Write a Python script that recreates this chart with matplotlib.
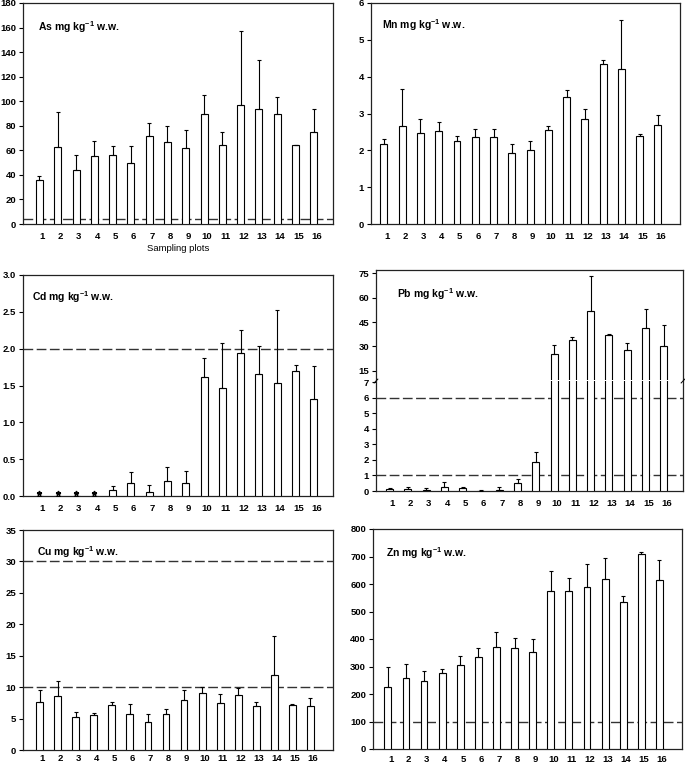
import matplotlib
matplotlib.use("Agg")
import matplotlib.pyplot as plt
import numpy as np

plt.rcParams["font.family"] = ["Liberation Sans", "DejaVu Sans"]
plt.rcParams["font.weight"] = "bold"
plt.rcParams["mathtext.fontset"] = "custom"
plt.rcParams["mathtext.rm"] = "Liberation Sans:bold"
plt.rcParams["mathtext.default"] = "rm"

plots = list(range(1, 17))

as_mean = [36, 63, 44, 55, 56, 49.5, 71.5, 67, 62, 89.5, 64.5, 97, 94, 89.5, 64, 75]
as_sd = [3.5, 28, 12, 13, 7.5, 14, 11, 13, 14.5, 15.5, 10.5, 60, 39.5, 14, 0.5, 19]
as_limits = [4]

mn_mean = [2.17, 2.65, 2.46, 2.52, 2.24, 2.37, 2.37, 1.92, 2.0, 2.54, 3.44, 2.86, 4.34, 4.21, 2.38, 2.70]
mn_sd = [0.15, 1.01, 0.38, 0.24, 0.14, 0.20, 0.20, 0.25, 0.24, 0.13, 0.21, 0.26, 0.10, 1.32, 0.06, 0.26]

cd_mean = [0, 0, 0, 0, 0.08, 0.17, 0.06, 0.21, 0.17, 1.62, 1.46, 1.94, 1.66, 1.54, 1.70, 1.31]
cd_sd = [0, 0, 0, 0, 0.06, 0.16, 0.09, 0.18, 0.17, 0.25, 0.62, 0.32, 0.38, 0.99, 0.08, 0.46]
cd_below = [1, 2, 3, 4]  # marked with * (below detection)
cd_limits = [2.0]

pb_mean = [0.1, 0.13, 0.08, 0.25, 0.2, 0.03, 0.08, 0.5, 1.85, 25.3, 33.9, 51.7, 36.9, 27.8, 41.1, 30.0]
pb_sd = [0.11, 0.1, 0.09, 0.3, 0.07, 0.02, 0.17, 0.28, 0.65, 5.5, 2.0, 21.5, 0.6, 4.2, 12.2, 13.0]
pb_limits = [1, 6]

cu_mean = [7.7, 8.6, 5.2, 5.5, 7.1, 5.8, 4.4, 5.7, 7.9, 9.0, 7.5, 8.8, 7.0, 11.9, 7.2, 7.0]
cu_sd = [1.8, 2.3, 0.9, 0.4, 0.5, 1.5, 1.4, 0.9, 1.6, 1.1, 1.4, 1.1, 0.6, 6.3, 0.05, 1.3]
cu_limits = [10, 30]

zn_mean = [224, 258, 247, 276, 306, 334, 371, 366, 351, 575, 573, 588, 620, 533, 708, 614]
zn_sd = [74, 52, 36, 16, 31, 32, 54, 38, 49, 72, 49, 84, 75, 25, 10, 74]
zn_limits = [100]

W, H = 685, 766
TICK_FS = 6.8
LABEL_FS = 7.5
SHIFT = 0.15  # bars sit slightly left of the category label
DASH = (0, (7, 2.5))


def px_axes(fig, left, right, top, bottom):
    return fig.add_axes([left / W, 1 - bottom / H, (right - left) / W, (bottom - top) / H])


def style(ax, xlim, xpad=6):
    ax.set_xlim(*xlim)
    for s in ax.spines.values():
        s.set_linewidth(0.9)
        s.set_color("#222")
    ax.tick_params(axis="y", direction="out", length=3, width=0.8, pad=2, labelsize=TICK_FS)
    ax.tick_params(axis="x", length=0, pad=xpad, labelsize=TICK_FS)
    ax.set_xticks(plots)
    ax.set_xticklabels([str(p) for p in plots])


def bars(ax, mean, sd):
    x = np.array(plots) - SHIFT
    ax.bar(x, mean, width=0.38, color="white", edgecolor="black", linewidth=0.8, zorder=3)
    ax.errorbar(x, mean, yerr=[np.zeros(len(sd)), sd], fmt="none", ecolor="black",
                elinewidth=0.8, capsize=1.6, capthick=0.8, zorder=4)


def limits(ax, vals):
    for v in vals:
        ax.axhline(v, color="#333", lw=1.0, ls=DASH, zorder=2)


def label(ax, metal, x, y):
    ax.text(x, y, metal + r" mg kg$^{-1}$ w.w.", transform=ax.transAxes,
            fontsize=LABEL_FS, va="center", ha="left")


fig = plt.figure(figsize=(W / 100, H / 100), dpi=100)

# As
ax = px_axes(fig, 23, 333, 3, 224)
bars(ax, as_mean, as_sd)
limits(ax, as_limits)
ax.set_ylim(0, 180)
ax.set_yticks(range(0, 181, 20))
style(ax, (-0.05, 16.9))
label(ax, "As", 0.05, 0.89)
ax.set_xlabel("Sampling plots", fontsize=TICK_FS, labelpad=2)

# Mn
ax = px_axes(fig, 371, 680, 3, 224)
bars(ax, mn_mean, mn_sd)
ax.set_ylim(0, 6)
ax.set_yticks(range(0, 7))
style(ax, (0.14, 17.06))
label(ax, "Mn", 0.036, 0.9)

# Cd
ax = px_axes(fig, 23, 333, 275, 496)
bars(ax, cd_mean, cd_sd)
limits(ax, cd_limits)
ax.plot(np.array(cd_below) - SHIFT, [0.04] * len(cd_below), ls="none", marker="*",
        ms=3.5, color="black", zorder=5)
ax.set_ylim(0, 3.0)
ax.set_yticks(np.arange(0, 3.01, 0.5))
ax.set_yticklabels([f"{v:.1f}" for v in np.arange(0, 3.01, 0.5)])
style(ax, (-0.05, 16.9))
label(ax, "Cd", 0.03, 0.9)

# Pb, broken axis: upper 15-75, lower 0-7
brk = 380.5
ax_up = px_axes(fig, 376, 683, 270, brk - 0.8)
ax_lo = px_axes(fig, 376, 683, brk + 0.8, 491)
for a in (ax_up, ax_lo):
    bars(a, pb_mean, pb_sd)
limits(ax_lo, pb_limits)
ax_up.set_ylim(9.5, 77)
ax_up.set_yticks([15, 30, 45, 60, 75])
ax_lo.set_ylim(0, 7.07)
ax_lo.set_yticks(range(0, 8))
style(ax_up, (0.11, 16.9))
style(ax_lo, (0.11, 16.9))
ax_up.spines["bottom"].set_visible(False)
ax_lo.spines["top"].set_visible(False)
ax_up.tick_params(axis="x", labelbottom=False)
for xs in (0, 1):
    ax_lo.plot([xs - 0.006, xs + 0.006], [0.985, 1.02], transform=ax_lo.transAxes,
               color="black", lw=0.7, clip_on=False)
label(ax_up, "Pb", 0.07, 0.78)

# Cu
ax = px_axes(fig, 23, 333, 530, 750)
bars(ax, cu_mean, cu_sd)
limits(ax, cu_limits)
ax.set_ylim(0, 35)
ax.set_yticks(range(0, 36, 5))
style(ax, (-0.07, 17.1), xpad=3)
label(ax, "Cu", 0.045, 0.9)

# Zn
ax = px_axes(fig, 373, 682, 529, 749)
bars(ax, zn_mean, zn_sd)
limits(ax, zn_limits)
ax.set_ylim(0, 800)
ax.set_yticks(range(0, 801, 100))
style(ax, (0.03, 17.1), xpad=4)
label(ax, "Zn", 0.042, 0.89)

fig.savefig("out.png", dpi=100)
